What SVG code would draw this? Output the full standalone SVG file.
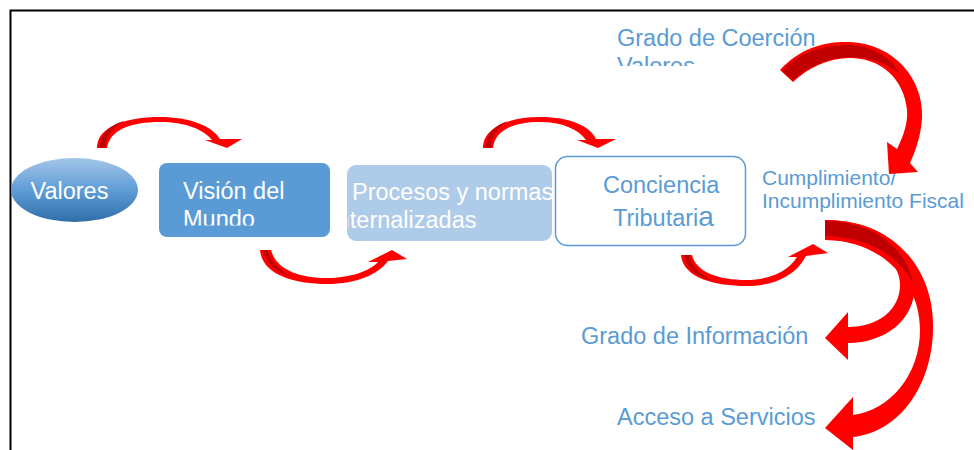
<svg xmlns="http://www.w3.org/2000/svg" width="974" height="450" viewBox="0 0 974 450">
<style>
text{font-family:"Liberation Sans",Arial,sans-serif;font-size:23.5px}
.w{fill:#ffffff}
.b{fill:#5b9bd5}
.arr{fill:#ff0000}
.dk{fill:#c00000}
</style>
<defs>
<linearGradient id="eg" x1="0" y1="0" x2="0" y2="1">
<stop offset="0" stop-color="#a3c6e8"/>
<stop offset="0.5" stop-color="#5f9dd6"/>
<stop offset="1" stop-color="#2f6ea8"/>
</linearGradient>
<clipPath id="cVision"><rect x="159" y="163" width="171" height="62.5"/></clipPath>
<clipPath id="cProc"><rect x="347" y="165" width="205" height="76"/></clipPath>
<clipPath id="cProc2"><rect x="348" y="165" width="204" height="76"/></clipPath>
<clipPath id="cCoer"><rect x="600" y="15" width="260" height="51"/></clipPath>
</defs>
<rect x="0" y="0" width="974" height="450" fill="#ffffff"/>
<rect x="10.5" y="10.5" width="1000" height="500" fill="none" stroke="#000000" stroke-width="2"/>

<g id="valores">
<ellipse cx="74.5" cy="190" rx="63.5" ry="32" fill="url(#eg)"/>
<text x="30.5" y="199" class="w">Valores</text>
</g>

<g id="vision">
<rect x="159" y="163" width="171" height="74" rx="8" fill="#5b9bd5"/>
<g clip-path="url(#cVision)">
<text x="183" y="199" class="w">Visión del</text>
<text x="183" y="227" class="w">Mundo</text>
</g>
</g>

<g id="procesos">
<rect x="347" y="165" width="205" height="76" rx="9" fill="#aecbe9"/>
<g clip-path="url(#cProc)">
<text x="352" y="200" class="w">Procesos y normas</text>
</g>
<g clip-path="url(#cProc2)">
<text x="331.5" y="228" class="w">internalizadas</text>
</g>
</g>

<g id="conciencia">
<rect x="555.5" y="156.5" width="190" height="89" rx="12" fill="#ffffff" stroke="#5b9bd5" stroke-width="1.5"/>
<text x="603" y="193" class="b">Conciencia</text>
<text x="613" y="226" class="b">Tributari<tspan style="font-size:28px">a</tspan></text>
</g>

<g id="coercion">
<g clip-path="url(#cCoer)">
<text x="617" y="46" class="b">Grado de Coerción</text>
<text x="617" y="74" class="b">Valores</text>
</g>
</g>

<g id="cumplimiento">
<text x="762" y="185" class="b" style="font-size:21px">Cumplimiento/</text>
<text x="762" y="208" class="b" style="font-size:21px">Incumplimiento Fiscal</text>
</g>

<g id="informacion">
<text x="581" y="344" class="b">Grado de Información</text>
</g>

<g id="servicios">
<text x="617" y="425" class="b">Acceso a Servicios</text>
</g>

<g id="connectors">
<path class="arr" d="M 97 148 C 97 127, 125 117, 160 117 C 190 117, 212 126, 220 139 L 242 139 L 227 148 L 205 140 L 212 140 C 203 129, 185 122, 160 122 C 130 122, 110 130, 107 148 Z"/>
<path class="dk" d="M 100 148 C 100 134, 110 125, 124 121 C 113 127, 106 136, 105 148 Z"/>
<path class="arr" d="M 260 250 C 262 275, 295 284, 327 284 C 355 284, 378 275, 388 261 L 407 259 L 392 250 L 368 262 L 378 262 C 370 271, 350 278, 327 278 C 300 278, 276 270, 271 250 Z"/>
<path class="dk" d="M 263 250 C 265 262, 275 272, 292 277 C 280 270, 270 262, 268 250 Z"/>
<path class="arr" d="M 483 148 C 483 127, 510 117, 540 117 C 570 117, 590 126, 596 139 L 616 139 L 598 148 L 577 140 L 586 140 C 578 129, 562 122, 540 122 C 514 122, 495 130, 493 148 Z"/>
<path class="dk" d="M 486 148 C 486 134, 495 125, 508 121 C 498 127, 491 136, 491 148 Z"/>
<path class="arr" d="M 681 255 C 683 278, 715 286, 747 286 C 772 286, 795 277, 806 256 L 828 253 L 813 244 L 788 257 L 797 257 C 788 272, 768 280, 747 280 C 718 280, 696 272, 692 255 Z"/>
<path class="dk" d="M 684 255 C 686 267, 696 276, 712 281 C 700 274, 691 265, 689 255 Z"/>
<path class="arr" d="M 780 70 C 800 48, 825 41, 850 42 C 895 44, 924 80, 922 118 C 921 135, 916 150, 910 163 L 918 172 L 889 174 L 887 142 L 897 149 C 904 135, 908 122, 907 110 C 904 78, 880 58, 850 58 C 828 58, 808 68, 793 82 Z"/>
<path class="dk" d="M 782 71 C 801 51, 825 45, 850 45 C 872 46, 890 56, 900 74 C 885 62, 868 57, 850 57 C 828 57, 808 67, 793 80 Z"/>
<path class="arr" d="M 825 220 C 895 220, 935 270, 933 330 C 932 385, 900 432, 853 437 L 853 450 L 825 428 L 853 397 L 853 415 C 890 410, 920 375, 920 330 C 920 280, 880 240, 825 240 Z"/>
<path class="arr" d="M 825 220 C 880 220, 915 250, 915 285 C 915 320, 885 343, 848 343 L 848 360 L 825 338 L 848 312 L 848 327 C 878 327, 900 310, 900 285 C 900 258, 870 240, 825 240 Z"/>
<path class="dk" d="M 825 221 C 870 221, 905 245, 913 283 C 900 258, 870 237, 825 236 Z"/>
</g>
</svg>
